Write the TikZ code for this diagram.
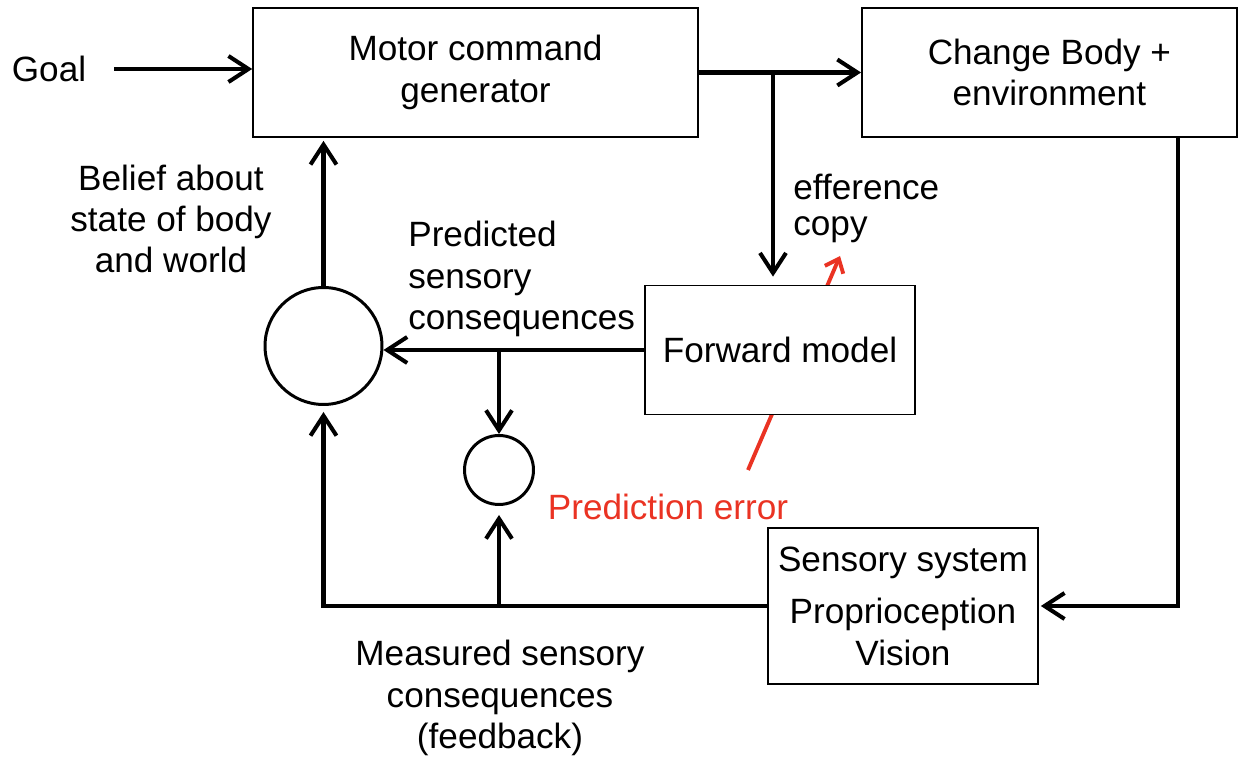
\documentclass[tikz,border=0pt]{standalone}
\usepackage{fontspec}
\setmainfont{Liberation Sans}
\usetikzlibrary{arrows.meta,positioning}
\definecolor{errred}{RGB}{234,51,35}

\begin{document}
\begin{tikzpicture}[%
       x=0.02cm, y=-0.02cm,
       >={Straight Barb[length=0.4cm,width=0.52cm]},
       font=\fontsize{20}{23.5}\selectfont,
       box/.style={draw, line width=1pt, fill=white, minimum height=2.58cm, align=center, inner sep=0pt},
       junction/.style={draw, circle, line width=1.7pt, inner sep=0pt},
       flow/.style={->, line width=2.3pt},
       lbl/.style={inner sep=0pt, align=center}
     ]
     \useasboundingbox (0,0) rectangle (1238,759);

     % texts that stand free
     \node[lbl]			(goal)    at (49,69)    {Goal};
     \node[lbl]			(beliefl) at (171,219)  {Belief about\\state of body\\and world};
     \node[lbl,align=left,anchor=west]	(predl)   at (408,279)  {Predicted\\sensory\\consequences};
     \node[lbl,align=left,anchor=west]	(effl)    at (793,208)  {efference\\[-3pt]copy};
     \node[lbl,text=errred]		(perror)  at (668,507)  {Prediction error};
     \node[lbl]			(measl)   at (500,698)  {Measured sensory\\consequences\\(feedback)};

     % red arrow runs behind the forward model
     \coordinate (errfoot) at (748,470);
     \coordinate (errhead) at (840,256);
     \draw[errred, line width=2.2pt, -{Straight Barb[length=0.24cm,width=0.4cm]}] (errfoot) -- (errhead);

     \node[box, minimum width=8.9cm]	(motor)   at (475.5,72.5)  {Motor command\\generator};
     \node[box, minimum width=7.5cm, on grid, right=11.48cm of motor]	(change)  {Change Body +\\environment};
     \node[box, minimum width=5.4cm]	(forward) at (780,350)  {Forward model};
     \node[box, minimum width=5.4cm, minimum height=3.12cm]	(sensory) at (903,606)  {Sensory system\\[6.5pt]Proprioception\\Vision};
     \node[junction, minimum size=2.34cm]	(belief)  at (323.5,346) {};
     \node[junction, minimum size=1.38cm]	(compare) at (499,470)  {};

     \coordinate (split)  at (773,72.5);
     \coordinate (split2) at (499,350);
     \coordinate (split3) at (499,606);
     \coordinate (rturn)  at (1178,606);

     \draw[flow, shorten <=0.56cm] (goal.east) -- (goal.east -| motor.west);
     \draw[flow] (motor) -- (change);
     \draw[flow, shorten >=0.16cm] (split) -- (split |- forward.north);
     \draw[flow] (forward.west) -- (forward.west -| belief.east);
     \draw[flow] (split2) -- (compare);
     \draw[flow, shorten >=0.06cm] (belief) -- (belief |- motor.south);
     \draw[flow, shorten >=0.04cm] (change.south -| rturn) -- (rturn) -- (sensory.east);
     \draw[flow, shorten >=0.12cm] (sensory.west) -| (belief.south);
     \draw[flow, shorten >=0.18cm] (split3) -- (compare.south);
\end{tikzpicture}
\end{document}
